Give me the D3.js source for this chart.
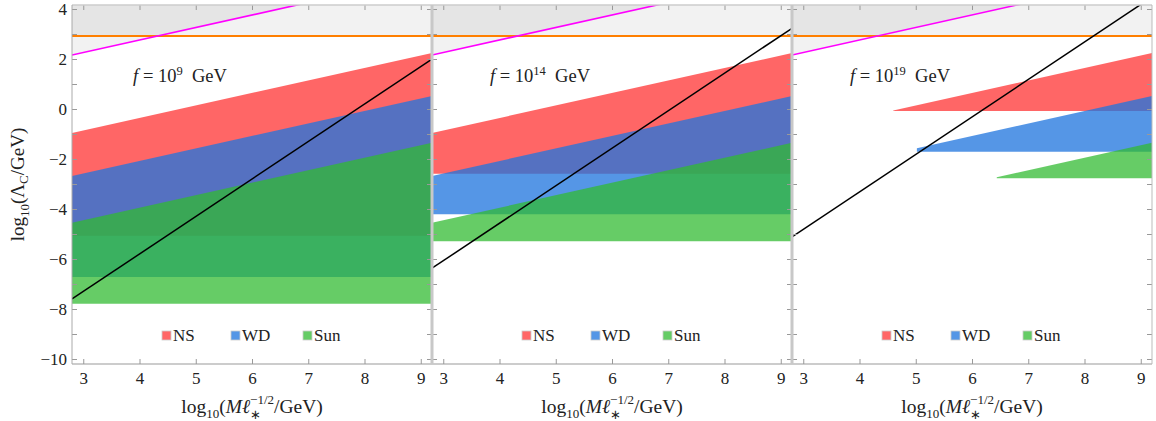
<!DOCTYPE html>
<html><head><meta charset="utf-8">
<script src="https://cdn.jsdelivr.net/npm/d3@7"></script>
<style>
body{margin:0;background:#fff}
text{font-family:"Liberation Serif","Times New Roman",serif;fill:#222}
</style>
</head><body><svg id="c" width="1156" height="421"></svg>
<script>
// ---------- data ----------
const fExponents = ["9", "14", "19"];            // f = 10^n GeV, one per panel
const xTicks = [3, 4, 5, 6, 7, 8, 9];
const yTicks = [-10, -9, -8, -7, -6, -5, -4, -3, -2, -1, 0, 1, 2, 3, 4];
const yTickLabels = ["\u221210", "", "\u22128", "", "\u22126", "", "\u22124", "", "\u22122", "", "0", "", "2", "", "4"];
const bandNames = ["NS", "WD", "Sun"];
// sloped upper edge of each band, value at x=2.8 and x=9.2 (same in every panel)
const bandTopLeft = [-0.96, -2.68, -4.55];
const bandTopRight = [2.24, 0.52, -1.35];
// flat lower edge of each band, per panel
const bandBottomP1 = [-5.07, -6.72, -7.79];
const bandBottomP2 = [-2.59, -4.21, -5.29];
const bandBottomP3 = [-0.08, -1.71, -2.77];
// left end of each band, per panel
const bandStartP1 = [2.8, 2.8, 2.8];
const bandStartP2 = [2.8, 2.8, 2.8];
const bandStartP3 = [4.6, 5.02, 6.44];
// black line, value at x=2.8 and x=9.2, per panel
const blackLeft = [-7.6, -6.37, -5.12];
const blackRight = [2.0, 3.23, 4.48];
// magenta line (value at x=2.8 and x=9.2) and orange level
const magentaEnds = [2.16, 5.36];
const orangeLevel = 2.92;

const bandBottoms = [bandBottomP1, bandBottomP2, bandBottomP3];
const bandStarts = [bandStartP1, bandStartP2, bandStartP3];

// ---------- styles ----------
const bandFill = ["rgb(255,102,102)", "rgb(31,117,222)", "rgb(48,186,48)"];
const bandOpacity = [1, 0.76, 0.74];
const legendFill = ["#ff6666", "#5596e6", "#66cc66"];

const svg = d3.select("#c");
const xMin = 2.8, xMax = 9.2, yMin = -10.2, yMax = 4.16;
const panelW = 360, plotTop = 5, plotBottom = 364;
const panelLefts = [72, 432, 792];
const y = d3.scaleLinear().domain([yMin, yMax]).range([plotBottom, plotTop]);

function measure(str, size, italic) {
  const t = svg.append("text").attr("font-size", size).style("font-style", italic ? "italic" : "normal").text(str);
  const w = t.node().getComputedTextLength();
  t.remove();
  return w;
}
const lerp = (a, b, t) => a + (b - a) * t;

panelLefts.forEach((L, p) => {
  const x = d3.scaleLinear().domain([xMin, xMax]).range([L, L + panelW]);
  const g = svg.append("g");
  const cid = "clip" + p;
  svg.append("clipPath").attr("id", cid).append("rect")
    .attr("x", L).attr("y", plotTop).attr("width", panelW).attr("height", plotBottom - plotTop);
  const pg = g.append("g").attr("clip-path", `url(#${cid})`);
  const line = d3.line().x(d => x(d[0])).y(d => y(d[1]));

  // gray excluded regions
  pg.append("path").attr("d", line([[xMin, orangeLevel], [xMax, orangeLevel], [xMax, yMax + 1], [xMin, yMax + 1]]) + "Z")
    .attr("fill", "#000").attr("fill-opacity", 0.052);
  pg.append("path").attr("d", line([[xMin, magentaEnds[0]], [xMax, magentaEnds[1]], [xMax, yMax + 3], [xMin, yMax + 3]]) + "Z")
    .attr("fill", "#000").attr("fill-opacity", 0.052);

  // bands
  bandNames.forEach((n, i) => {
    const xs = bandStarts[p][i];
    const topAt = xv => lerp(bandTopLeft[i], bandTopRight[i], (xv - xMin) / (xMax - xMin));
    const b = bandBottoms[p][i];
    const pts = [[xs, b], [xs, Math.max(b, topAt(xs))], [xMax, bandTopRight[i]], [xMax, b]];
    pg.append("path").attr("d", line(pts) + "Z")
      .attr("fill", bandFill[i]).attr("fill-opacity", bandOpacity[i]);
  });

  // lines
  pg.append("path").attr("d", line([[xMin, orangeLevel], [xMax, orangeLevel]]))
    .attr("stroke", "#ff7f00").attr("stroke-width", 1.9).attr("fill", "none");
  pg.append("path").attr("d", line([[xMin, magentaEnds[0]], [xMax, magentaEnds[1]]]))
    .attr("stroke", "#ff00ff").attr("stroke-width", 1.6).attr("fill", "none");
  pg.append("path").attr("d", line([[xMin, blackLeft[p]], [xMax, blackRight[p]]]))
    .attr("stroke", "#000").attr("stroke-width", 1.5).attr("fill", "none");

  // axes
  const styleAxis = sel => {
    sel.select(".domain").remove();
    sel.selectAll(".tick line").attr("stroke", "#999");
    sel.selectAll("text").attr("font-size", 17).attr("fill", "#222").attr("font-family", null);
  };
  g.append("g").attr("transform", `translate(0,${plotBottom})`)
    .call(d3.axisBottom(x).tickValues(xTicks).tickSizeInner(-5).tickSizeOuter(0).tickPadding(8).tickFormat(d3.format("d")))
    .call(styleAxis);
  g.append("g").attr("transform", `translate(0,${plotTop})`)
    .call(d3.axisTop(x).tickValues(xTicks).tickSizeInner(-5).tickSizeOuter(0).tickFormat(""))
    .call(styleAxis);
  g.append("g").attr("transform", `translate(${L},0)`)
    .call(d3.axisLeft(y).tickValues(yTicks).tickSizeInner(-5).tickSizeOuter(0).tickPadding(5)
      .tickFormat((d, i) => p === 0 ? yTickLabels[i] : ""))
    .call(styleAxis);
  g.append("g").attr("transform", `translate(${L + panelW},0)`)
    .call(d3.axisRight(y).tickValues(yTicks).tickSizeInner(-5).tickSizeOuter(0).tickFormat(""))
    .call(styleAxis);

  // frame
  g.append("line").attr("x1", L).attr("x2", L + panelW).attr("y1", plotTop).attr("y2", plotTop).attr("stroke", "#ccc").attr("stroke-width", 1.5);
  g.append("line").attr("x1", L).attr("x2", L + panelW).attr("y1", plotBottom).attr("y2", plotBottom).attr("stroke", "#999");
  g.append("line").attr("x1", L).attr("x2", L).attr("y1", plotTop).attr("y2", plotBottom).attr("stroke", p === 0 ? "#aaa" : "#c8c8c8").attr("stroke-width", p === 0 ? 1 : 3);
  if (p === 2) g.append("line").attr("x1", L + panelW).attr("x2", L + panelW).attr("y1", plotTop).attr("y2", plotBottom).attr("stroke", "#bbb");

  // f label
  const ft = g.append("text").attr("x", x(4.72)).attr("y", 82).attr("text-anchor", "middle").attr("font-size", 18.5);
  ft.append("tspan").style("font-style", "italic").text("f");
  ft.append("tspan").text(" = 10");
  ft.append("tspan").attr("font-size", 12.5).attr("dy", -7).text(fExponents[p]);
  ft.append("tspan").attr("dy", 7).text("\u2002GeV");

  // legend
  const legendOffsets = [90, 159, 231];
  bandNames.forEach((n, i) => {
    const lx = L + legendOffsets[i];
    g.append("rect").attr("x", lx).attr("y", 331).attr("width", 9).attr("height", 9)
      .attr("fill", legendFill[i]).attr("stroke", "#ccc").attr("stroke-width", 0.8);
    g.append("text").attr("x", lx + 11).attr("y", 341).attr("font-size", 17).text(n);
  });

  // x axis title
  const fs = 19.5, ss = 13;
  const wSup = measure("\u22121/2", ss, false), wSub = measure("\u2217", ss, false);
  const xt = g.append("text").attr("x", L + panelW / 2).attr("y", 413).attr("text-anchor", "middle").attr("font-size", fs);
  xt.append("tspan").text("log");
  xt.append("tspan").attr("font-size", ss).attr("dy", 5).text("10");
  xt.append("tspan").attr("dy", -5).text("(");
  xt.append("tspan").style("font-style", "italic").text("M\u2113");
  xt.append("tspan").attr("font-size", ss).attr("dy", -9).text("\u22121/2");
  xt.append("tspan").attr("font-size", ss).attr("dx", -wSup).attr("dy", 15).text("\u2217");
  xt.append("tspan").attr("dx", wSup - wSub).attr("dy", -6).text("/GeV)");
});

// y axis title
const yt = svg.append("text").attr("transform", `translate(24,${(plotTop + plotBottom) / 2}) rotate(-90)`)
  .attr("text-anchor", "middle").attr("font-size", 19);
yt.append("tspan").text("log");
yt.append("tspan").attr("font-size", 13).attr("dy", 5).text("10");
yt.append("tspan").attr("dy", -5).text("(\u039B");
yt.append("tspan").attr("font-size", 13).attr("dy", 4).text("C");
yt.append("tspan").attr("dy", -4).text("/GeV)");
</script>
</body></html>
